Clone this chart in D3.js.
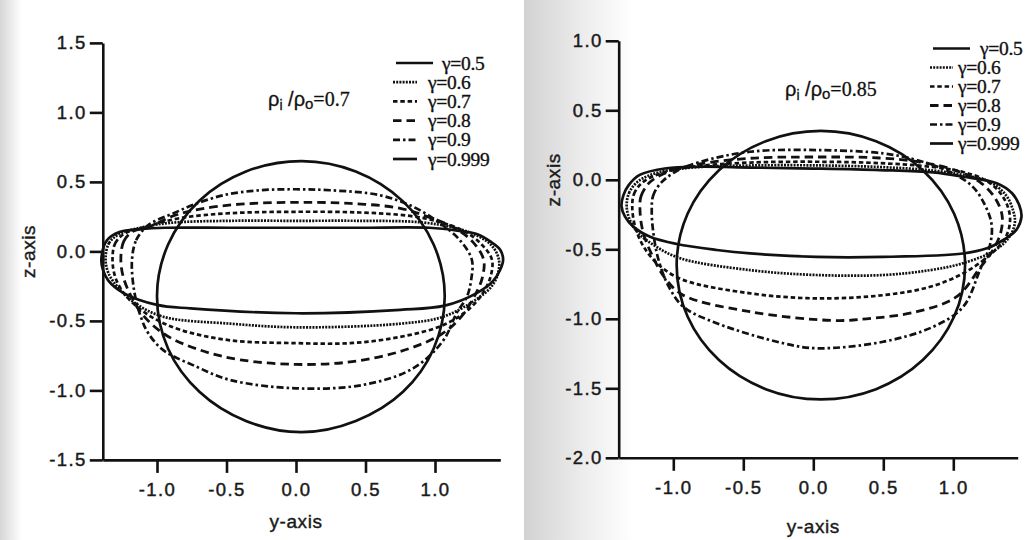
<!DOCTYPE html>
<html><head><meta charset="utf-8">
<script src="https://cdn.jsdelivr.net/npm/d3@7/dist/d3.min.js"></script>
<style>body{margin:0;background:#fff;} svg{display:block;}</style>
</head><body>
<svg id="c" width="1027" height="540"></svg>
<script>
// ---------------- data (y-axis, z-axis coordinates) ----------------
const legendLabels = ["γ=0.5", "γ=0.6", "γ=0.7", "γ=0.8", "γ=0.9", "γ=0.999"];
const leftXTicks = [-1.0, -0.5, 0.0, 0.5, 1.0];
const leftZTicks = [-1.5, -1.0, -0.5, 0.0, 0.5, 1.0, 1.5];
const rightXTicks = [-1.0, -0.5, 0.0, 0.5, 1.0];
const rightZTicks = [-2.0, -1.5, -1.0, -0.5, 0.0, 0.5, 1.0];
const leftRatio = "0.7";
const rightRatio = "0.85";

// panel 1 : rho_i/rho_o = 0.7
const left_g050 = [[-1.40,-0.05],[-1.36,0.08],[-1.27,0.14],[-1.12,0.16],[-0.94,0.17],[-0.47,0.17],[0.00,0.17],[0.46,0.17],[0.96,0.17],[1.16,0.15],[1.30,0.125],[1.40,0.07],[1.47,0.01],[1.49,-0.06],[1.47,-0.13],[1.42,-0.21],[1.30,-0.30],[1.07,-0.39],[0.75,-0.42],[0.00,-0.445],[-0.76,-0.41],[-1.00,-0.385],[-1.24,-0.30],[-1.35,-0.21],[-1.39,-0.13]];
const left_g060 = [[-1.37,-0.05],[-1.345,0.06],[-1.27,0.125],[-1.12,0.17],[-0.91,0.205],[-0.47,0.22],[0.00,0.22],[0.46,0.22],[0.89,0.21],[1.14,0.17],[1.31,0.11],[1.41,0.04],[1.46,-0.06],[1.45,-0.17],[1.40,-0.26],[1.29,-0.35],[1.06,-0.47],[0.75,-0.52],[0.00,-0.546],[-0.47,-0.52],[-0.955,-0.47],[-1.16,-0.37],[-1.28,-0.26],[-1.35,-0.155]];
const left_g070 = [[-1.32,-0.06],[-1.30,0.06],[-1.23,0.13],[-1.09,0.175],[-0.83,0.24],[-0.47,0.275],[0.00,0.285],[0.46,0.28],[0.82,0.255],[1.04,0.21],[1.22,0.14],[1.34,0.045],[1.41,-0.06],[1.40,-0.18],[1.35,-0.29],[1.25,-0.41],[1.06,-0.53],[0.75,-0.615],[0.39,-0.66],[0.00,-0.66],[-0.47,-0.64],[-0.83,-0.565],[-1.05,-0.465],[-1.21,-0.335],[-1.295,-0.20]];
const left_g080 = [[-1.26,-0.05],[-1.24,0.07],[-1.18,0.14],[-1.05,0.18],[-0.87,0.26],[-0.69,0.305],[-0.40,0.34],[0.00,0.353],[0.39,0.345],[0.75,0.31],[0.96,0.245],[1.14,0.17],[1.27,0.07],[1.35,-0.06],[1.34,-0.19],[1.29,-0.31],[1.18,-0.48],[1.04,-0.60],[0.75,-0.72],[0.39,-0.795],[0.00,-0.813],[-0.40,-0.78],[-0.69,-0.71],[-0.94,-0.60],[-1.10,-0.46],[-1.19,-0.315],[-1.245,-0.175]];
const left_g090 = [[-1.18,-0.06],[-1.15,0.08],[-1.075,0.18],[-1.00,0.225],[-0.88,0.275],[-0.74,0.335],[-0.52,0.405],[-0.26,0.44],[0.00,0.447],[0.245,0.44],[0.60,0.405],[0.845,0.32],[1.04,0.20],[1.18,0.08],[1.265,-0.06],[1.26,-0.205],[1.23,-0.325],[1.155,-0.445],[1.06,-0.64],[0.845,-0.84],[0.485,-0.96],[0.00,-0.985],[-0.475,-0.925],[-0.715,-0.83],[-0.955,-0.71],[-1.065,-0.585],[-1.12,-0.46],[-1.165,-0.28]];
const left_g0999 = [[1.07,-0.32],[0.99,0.05],[0.77,0.36],[0.43,0.575],[0.04,0.65],[-0.36,0.575],[-0.695,0.365],[-0.92,0.05],[-1.00,-0.32],[-0.92,-0.70],[-0.695,-1.01],[-0.36,-1.22],[0.04,-1.30],[0.43,-1.22],[0.77,-1.01],[0.99,-0.70]];

// panel 2 : rho_i/rho_o = 0.85
const right_g050 = [[-1.37,-0.19],[-1.356,-0.11],[-1.32,-0.04],[-1.24,0.035],[-1.05,0.083],[-0.81,0.094],[-0.45,0.088],[0.00,0.081],[0.475,0.07],[0.857,0.053],[1.07,0.022],[1.31,-0.025],[1.42,-0.097],[1.47,-0.18],[1.487,-0.265],[1.45,-0.36],[1.357,-0.433],[1.24,-0.493],[1.07,-0.53],[0.50,-0.555],[0.024,-0.555],[-0.45,-0.53],[-0.69,-0.505],[-0.976,-0.462],[-1.166,-0.41],[-1.286,-0.337],[-1.345,-0.265]];
const right_g060 = [[-1.333,-0.19],[-1.316,-0.095],[-1.25,-0.01],[-1.095,0.056],[-0.81,0.092],[-0.45,0.103],[0.00,0.104],[0.475,0.092],[0.855,0.067],[1.07,0.035],[1.262,-0.016],[1.376,-0.11],[1.426,-0.217],[1.44,-0.304],[1.405,-0.404],[1.30,-0.505],[1.07,-0.60],[0.834,-0.65],[0.50,-0.685],[0.024,-0.685],[-0.45,-0.65],[-0.95,-0.565],[-1.13,-0.476],[-1.25,-0.383],[-1.31,-0.29]];
const right_g070 = [[-1.293,-0.203],[-1.28,-0.10],[-1.216,-0.016],[-1.06,0.056],[-0.81,0.10],[-0.45,0.124],[0.00,0.13],[0.475,0.12],[0.855,0.092],[1.07,0.056],[1.226,-0.001],[1.33,-0.088],[1.39,-0.196],[1.405,-0.304],[1.37,-0.42],[1.262,-0.54],[1.07,-0.673],[0.834,-0.77],[0.50,-0.83],[0.024,-0.853],[-0.45,-0.817],[-0.93,-0.72],[-1.095,-0.62],[-1.20,-0.50],[-1.266,-0.36]];
const right_g080 = [[-1.238,-0.217],[-1.23,-0.117],[-1.166,-0.016],[-1.024,0.063],[-0.81,0.114],[-0.45,0.155],[0.00,0.164],[0.475,0.157],[0.76,0.128],[1.01,0.07],[1.19,-0.016],[1.298,-0.131],[1.348,-0.253],[1.34,-0.375],[1.284,-0.505],[1.19,-0.635],[1.024,-0.841],[0.739,-0.949],[0.381,-1.00],[0.143,-1.012],[-0.452,-0.949],[-0.929,-0.83],[-1.06,-0.706],[-1.152,-0.541],[-1.216,-0.376]];
const right_g090 = [[-1.154,-0.217],[-1.145,-0.117],[-1.095,-0.03],[-0.988,0.056],[-0.81,0.128],[-0.452,0.202],[0.024,0.214],[0.50,0.19],[0.739,0.142],[0.976,0.056],[1.134,-0.045],[1.226,-0.181],[1.274,-0.325],[1.262,-0.469],[1.19,-0.649],[1.071,-0.913],[0.857,-1.057],[0.50,-1.165],[0.024,-1.212],[-0.214,-1.176],[-0.69,-1.032],[-0.929,-0.913],[-1.038,-0.757],[-1.109,-0.563],[-1.145,-0.361]];
const right_g0999 = [[1.084,-0.614],[1.006,-0.244],[0.782,0.069],[0.448,0.278],[0.054,0.352],[-0.34,0.278],[-0.674,0.069],[-0.898,-0.244],[-0.976,-0.614],[-0.898,-0.984],[-0.674,-1.297],[-0.34,-1.506],[0.054,-1.58],[0.448,-1.506],[0.782,-1.297],[1.006,-0.984]];

// ---------------- styles ----------------
const seriesStyles = [
  {dash: null,          w: 2.7},   // 0.5 solid
  {dash: "2,1.2",       w: 2.7},   // 0.6 dotted
  {dash: "4.5,2.8",     w: 2.7},   // 0.7 short dash
  {dash: "8.5,5",       w: 2.8},   // 0.8 dash
  {dash: "7,3,2.5,3",   w: 2.7},   // 0.9 dash-dot
  {dash: null,          w: 2.7}    // 0.999 solid
];

const svg = d3.select("#c");
const INK = "#111";
const SANS = "'Liberation Sans', Arial, Helvetica, sans-serif";
const SERIF = "'Liberation Serif', 'Times New Roman', serif";

// scanned-paper shading
const defs = svg.append("defs");
const g1 = defs.append("linearGradient").attr("id","shL").attr("x1","0").attr("x2","1");
g1.append("stop").attr("offset","0").attr("stop-color","#d6d6d6");
g1.append("stop").attr("offset","1").attr("stop-color","#ffffff");
const g2 = defs.append("linearGradient").attr("id","shR").attr("x1","0").attr("x2","1");
g2.append("stop").attr("offset","0").attr("stop-color","#d2d2d2");
g2.append("stop").attr("offset","0.55").attr("stop-color","#ededed");
g2.append("stop").attr("offset","1").attr("stop-color","#ffffff");
svg.append("rect").attr("x",0).attr("y",0).attr("width",22).attr("height",540).attr("fill","url(#shL)");
svg.append("rect").attr("x",524).attr("y",0).attr("width",110).attr("height",540).attr("fill","url(#shR)");

function panel(cfg) {
  const x = d3.scaleLinear().domain(cfg.xDom)
    .range([cfg.x0 + cfg.xDom[0]*cfg.ux, cfg.x0 + cfg.xDom[1]*cfg.ux]);
  const z = d3.scaleLinear().domain(cfg.zDom)
    .range([cfg.z0 - cfg.zDom[0]*cfg.uz, cfg.z0 - cfg.zDom[1]*cfg.uz]);
  const g = svg.append("g");
  const fmt = d => d.toFixed(1);

  // axes
  const ax = g.append("g").attr("transform", `translate(0,${z(cfg.zDom[0])})`)
    .call(d3.axisBottom(x).tickValues(cfg.xTicks).tickFormat(fmt).tickSize(13).tickSizeOuter(0).tickPadding(10));
  const az = g.append("g").attr("transform", `translate(${x(cfg.xDom[0])},0)`)
    .call(d3.axisLeft(z).tickValues(cfg.zTicks).tickFormat(fmt).tickSize(13).tickSizeOuter(0).tickPadding(3));
  [ax, az].forEach(a => {
    a.selectAll("path.domain").attr("stroke", INK).attr("stroke-width", 2.6);
    a.selectAll(".tick line").attr("stroke", INK).attr("stroke-width", 2.6);
    a.selectAll(".tick text").attr("fill", "#1a1a1a").attr("stroke", "#1a1a1a").attr("stroke-width", 0.45)
      .style("font-family", SANS).style("font-size", "18.5px").style("letter-spacing", "1.4px");
  });

  // curves
  const line = d3.line().x(d => x(d[0])).y(d => z(d[1])).curve(d3.curveCatmullRomClosed.alpha(0.5));
  cfg.series.forEach((s, i) => {
    const st = seriesStyles[i];
    g.append("path").attr("d", line(s)).attr("fill", "none").attr("stroke", INK)
      .attr("stroke-width", st.w).attr("stroke-dasharray", st.dash).attr("stroke-linejoin","round");
  });

  // axis titles
  g.append("text").attr("x", x(0)).attr("y", cfg.yTitleY).attr("text-anchor", "middle")
    .style("font-family", SANS).style("font-size", "19px").attr("stroke", "#1a1a1a").attr("stroke-width", 0.4)
    .style("letter-spacing", "0.6px").attr("fill", "#1a1a1a").text("y-axis");
  g.append("text").attr("transform", `translate(${cfg.zTitleX},${z(0)}) rotate(-90)`).attr("text-anchor", "middle")
    .style("font-family", SANS).style("font-size", "19px").attr("stroke", "#1a1a1a").attr("stroke-width", 0.4)
    .style("letter-spacing", "0.6px").attr("fill", "#1a1a1a").text("z-axis");

  // ratio label
  const t = g.append("text").attr("x", cfg.ratioX).attr("y", cfg.ratioY)
    .style("font-family", SANS).style("font-size", "20px").attr("fill", INK).attr("stroke", INK).attr("stroke-width", 0.3);
  t.append("tspan").text("ρ");
  t.append("tspan").attr("dy", 4).style("font-size", "14px").text("i");
  t.append("tspan").attr("dy", -4).text(" /ρ");
  t.append("tspan").attr("dy", 3).style("font-size", "15px").text("o");
  t.append("tspan").attr("dy", -3).style("font-family", SERIF).text("=" + cfg.ratio);

  // legend
  const lg = g.append("g");
  legendLabels.forEach((lab, i) => {
    const yy = cfg.legY + i * cfg.legDy;
    const st = seriesStyles[i];
    const x1 = i === 0 ? cfg.leg0x1 : cfg.legx1;
    const x2 = i === 0 ? cfg.leg0x2 : cfg.legx2;
    const tx = i === 0 ? cfg.leg0tx : cfg.legtx;
    lg.append("line").attr("x1", x1).attr("x2", x2).attr("y1", yy).attr("y2", yy)
      .attr("stroke", INK).attr("stroke-width", st.w).attr("stroke-dasharray", st.dash);
    lg.append("text").attr("x", tx).attr("y", yy + 6.5)
      .style("font-family", SERIF).style("font-size", "19.5px").style("letter-spacing", "-0.3px")
      .attr("fill", INK).attr("stroke", INK).attr("stroke-width", 0.35).text(lab);
  });
}

panel({
  xDom: [-1.39, 1.47], zDom: [-1.5, 1.5], x0: 296, z0: 251.4, ux: 139, uz: 139,
  xTicks: leftXTicks, zTicks: leftZTicks,
  series: [left_g050, left_g060, left_g070, left_g080, left_g090, left_g0999],
  yTitleY: 528, zTitleX: 35, ratio: leftRatio, ratioX: 268, ratioY: 106,
  legY: 63, legDy: 19.2, leg0x1: 396, leg0x2: 433, leg0tx: 442, legx1: 393, legx2: 417, legtx: 428
});
panel({
  xDom: [-1.39, 1.46], zDom: [-2.0, 1.0], x0: 813.3, z0: 179.8, ux: 140, uz: 139,
  xTicks: rightXTicks, zTicks: rightZTicks,
  series: [right_g050, right_g060, right_g070, right_g080, right_g090, right_g0999],
  yTitleY: 533, zTitleX: 560, ratio: rightRatio, ratioX: 785, ratioY: 96,
  legY: 48.5, legDy: 19, leg0x1: 933, leg0x2: 970, leg0tx: 980, legx1: 930, legx2: 953, legtx: 958
});
</script>
</body></html>
